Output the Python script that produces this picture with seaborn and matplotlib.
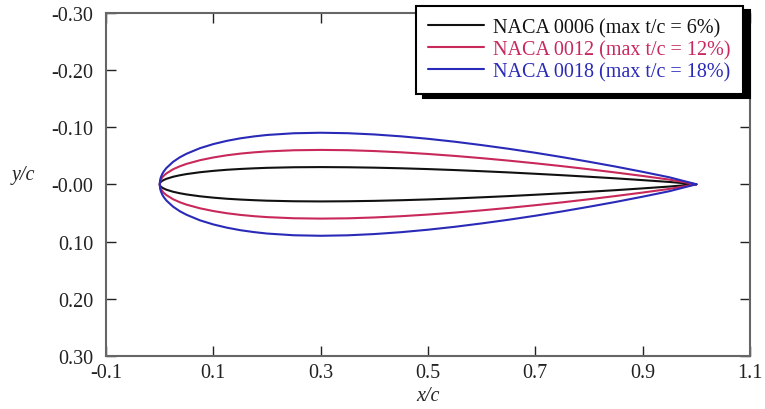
import pandas as pd
import numpy as np
import seaborn as sns
import matplotlib.pyplot as plt

# stations along the chord (x/c) and half-thickness
x_c = [0.0, 0.001, 0.0025, 0.005, 0.0075, 0.0125, 0.025, 0.0375, 0.05, 0.075,
       0.1, 0.125, 0.15, 0.175, 0.2, 0.25, 0.3, 0.35, 0.4, 0.45,
       0.5, 0.55, 0.6, 0.65, 0.7, 0.75, 0.8, 0.85, 0.9, 0.95, 1.0]
t_0006 = [0.0, 0.0028, 0.0044, 0.0061, 0.0074, 0.0095, 0.0131, 0.0157, 0.0178, 0.0210,
          0.0234, 0.0253, 0.0267, 0.0278, 0.0287, 0.0297, 0.0300, 0.0297, 0.0290, 0.0279,
          0.0265, 0.0248, 0.0228, 0.0207, 0.0183, 0.0158, 0.0131, 0.0103, 0.0072, 0.0040, 0.0]
t_0012 = [0.0, 0.0056, 0.0087, 0.0122, 0.0149, 0.0189, 0.0262, 0.0314, 0.0356, 0.0420,
          0.0468, 0.0506, 0.0535, 0.0557, 0.0574, 0.0594, 0.0600, 0.0595, 0.0580, 0.0558,
          0.0529, 0.0495, 0.0456, 0.0413, 0.0366, 0.0316, 0.0262, 0.0205, 0.0145, 0.0081, 0.0]
t_0018 = [0.0, 0.0083, 0.0131, 0.0183, 0.0223, 0.0284, 0.0392, 0.0471, 0.0533, 0.0630,
          0.0702, 0.0758, 0.0802, 0.0835, 0.0861, 0.0891, 0.0900, 0.0892, 0.0870, 0.0837,
          0.0794, 0.0743, 0.0684, 0.0620, 0.0550, 0.0474, 0.0393, 0.0308, 0.0217, 0.0121, 0.0]
labels = ['NACA 0006 (max t/c = 6%)', 'NACA 0012 (max t/c = 12%)',
          'NACA 0018 (max t/c = 18%)']
colors = ['#111111', '#c8285a', '#2a2ab8']
xticks = [-0.1, 0.1, 0.3, 0.5, 0.7, 0.9, 1.1]
yticks = [-0.30, -0.20, -0.10, 0.0, 0.10, 0.20, 0.30]
ytick_labels = ['-0.30', '-0.20', '-0.10', '-0.00', '0.10', '0.20', '0.30']

# closed outline: upper surface TE->LE, then lower surface LE->TE
rows = []
for lab, t in zip(labels, [t_0006, t_0012, t_0018]):
    xs = x_c[::-1] + x_c[1:]
    ys = [-v for v in t[::-1]] + t[1:]
    for i, (a, b) in enumerate(zip(xs, ys)):
        rows.append({'airfoil': lab, 'order': i, 'x': a, 'y': b})
df = pd.DataFrame(rows)

sns.set_style('ticks')
plt.rcParams['font.family'] = ['Liberation Serif', 'DejaVu Serif']

fig = plt.figure(figsize=(7.65, 4.10), dpi=100)
ax = fig.add_axes([0.1386, 0.1293, 0.8418, 0.8377])

sns.lineplot(data=df, x='x', y='y', hue='airfoil', palette=colors,
             sort=False, estimator=None, linewidth=1.5, legend=False, ax=ax)

ax.set_xlim(-0.1, 1.1)
ax.set_ylim(0.30, -0.30)
ax.set_xticks(xticks)
ax.set_xticklabels([f'{v:.1f}' for v in xticks])
ax.set_yticks(yticks)
ax.set_yticklabels(ytick_labels)
ax.tick_params(direction='in', length=7, width=1, top=True, right=True,
               labelsize=14.5, colors='#222222')
ax.tick_params(axis='y', pad=9)
ax.tick_params(axis='x', pad=5)
for sp in ax.spines.values():
    sp.set_color('#666666')
    sp.set_linewidth(1.5)

ax.set_xlabel('x/c', fontsize=14.5, style='italic', labelpad=3)
ax.set_ylabel('y/c', fontsize=14.5, style='italic', rotation=0, labelpad=0)
ax.yaxis.set_label_coords(-0.128, 0.5)

leg = ax.legend(ax.lines, labels, loc='upper right',
                bbox_to_anchor=(743 / 765, 1 - 7 / 410),
                bbox_transform=fig.transFigure, borderaxespad=0,
                fontsize=14.5, handlelength=2.8, handletextpad=0.45,
                labelspacing=0.14, borderpad=0.6, fancybox=False,
                framealpha=1, edgecolor='black', labelcolor='linecolor',
                shadow={'ox': 5, 'oy': -3, 'color': 'black', 'alpha': 1})
leg.get_frame().set_linewidth(1.5)

fig.savefig('out.png', dpi=100)
